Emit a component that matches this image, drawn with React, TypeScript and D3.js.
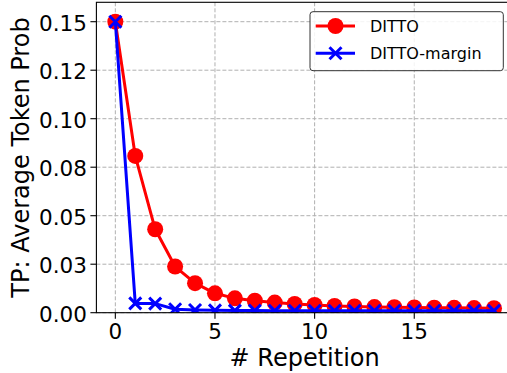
import React, { useRef, useEffect } from "react";
import * as d3 from "d3";

// values
const repetitions = d3.range(0, 20);
const dittoValues = [0.15, 0.0808, 0.043, 0.0238, 0.0152, 0.01, 0.0074, 0.0062, 0.0052, 0.0045, 0.004, 0.0035, 0.0032, 0.0029, 0.0028, 0.0027, 0.0026, 0.0025, 0.0024, 0.0023];
const marginValues = [0.15, 0.0048, 0.0047, 0.0018, 0.0014, 0.0012, 0.0011, 0.0011, 0.001, 0.001, 0.001, 0.001, 0.001, 0.001, 0.001, 0.001, 0.001, 0.001, 0.001, 0.001];
const yTicks = [0, 0.025, 0.05, 0.075, 0.1, 0.125, 0.15];
const yTickLabels = ["0.00", "0.03", "0.05", "0.08", "0.10", "0.12", "0.15"];
const xTicks = [0, 5, 10, 15];
const seriesNames = ["DITTO", "DITTO-margin"];

const W = 507;
const H = 373;
const FONT = "DejaVu Sans, sans-serif";

export default function App() {
  const svgRef = useRef<SVGSVGElement>(null);

  useEffect(() => {
    if (!svgRef.current) return;
    const root = d3.select(svgRef.current);
    root.selectAll("*").remove();

    const left = 96.4, right = 512.9, top = 2.3, bottom = 312.7;
    const x = d3.scaleLinear().domain([-0.95, 19.95]).range([left, right]);
    const y = d3.scaleLinear().domain([0, 0.16]).range([bottom, top]);

    // clip for plotted lines/markers
    root.append("clipPath").attr("id", "plot-clip")
      .append("rect").attr("x", left).attr("y", top).attr("width", right - left).attr("height", bottom - top);

    // grid
    const grid = root.append("g").attr("stroke", "#b0b0b0").attr("stroke-width", 1).attr("stroke-dasharray", "4,2");
    xTicks.forEach((t) => {
      grid.append("line").attr("x1", x(t)).attr("x2", x(t)).attr("y1", top).attr("y2", bottom);
    });
    yTicks.forEach((t) => {
      grid.append("line").attr("x1", left).attr("x2", right).attr("y1", y(t)).attr("y2", y(t));
    });

    const plot = root.append("g").attr("clip-path", "url(#plot-clip)");

    // DITTO: red circles
    const line = d3.line<number>().x((_, i) => x(repetitions[i])).y((d) => y(d));
    plot.append("path").datum(dittoValues).attr("fill", "none").attr("stroke", "#ff0000").attr("stroke-width", 3).attr("stroke-linejoin", "round").attr("d", line);
    plot.selectAll(".dot").data(dittoValues).join("circle")
      .attr("cx", (_, i) => x(repetitions[i])).attr("cy", (d) => y(d)).attr("r", 8).attr("fill", "#ff0000");

    // DITTO-margin: blue crosses
    plot.append("path").datum(marginValues).attr("fill", "none").attr("stroke", "#0000ff").attr("stroke-width", 3).attr("stroke-linejoin", "round").attr("d", line);
    const cross = (g: any, cx: number, cy: number, s: number) => {
      g.append("path")
        .attr("d", `M${cx - s},${cy - s}L${cx + s},${cy + s}M${cx - s},${cy + s}L${cx + s},${cy - s}`)
        .attr("stroke", "#0000ff").attr("stroke-width", 3).attr("fill", "none");
    };
    marginValues.forEach((v, i) => cross(plot, x(repetitions[i]), y(v), 6));

    // spines
    const spines = root.append("g").attr("stroke", "#000").attr("stroke-width", 1.1).attr("fill", "none");
    spines.append("rect").attr("x", left).attr("y", top).attr("width", right - left).attr("height", bottom - top);

    // y ticks
    yTicks.forEach((t, i) => {
      root.append("line").attr("x1", left - 6).attr("x2", left).attr("y1", y(t)).attr("y2", y(t)).attr("stroke", "#000").attr("stroke-width", 1.1);
      root.append("text").attr("x", left - 9.5).attr("y", y(t)).attr("dy", "0.42em").attr("text-anchor", "end")
        .attr("font-family", FONT).attr("font-size", 21.5).attr("fill", "#000").text(yTickLabels[i]);
    });
    // x ticks
    xTicks.forEach((t) => {
      root.append("line").attr("x1", x(t)).attr("x2", x(t)).attr("y1", bottom).attr("y2", bottom + 6).attr("stroke", "#000").attr("stroke-width", 1.1);
      root.append("text").attr("x", x(t)).attr("y", 339).attr("text-anchor", "middle")
        .attr("font-family", FONT).attr("font-size", 21.5).attr("fill", "#000").text(String(t));
    });

    // axis labels
    root.append("text").attr("x", (left + right) / 2).attr("y", 365.7).attr("text-anchor", "middle")
      .attr("font-family", FONT).attr("font-size", 24).attr("fill", "#000").text("# Repetition");
    root.append("text").attr("transform", `translate(28.5,${(top + bottom) / 2}) rotate(-90)`).attr("text-anchor", "middle")
      .attr("font-family", FONT).attr("font-size", 24).attr("fill", "#000").text("TP: Average Token Prob");

    // legend
    const lg = root.append("g");
    lg.append("rect").attr("x", 310).attr("y", 11.7).attr("width", 193.3).attr("height", 59).attr("rx", 3)
      .attr("fill", "#fff").attr("fill-opacity", 0.85).attr("stroke", "#333").attr("stroke-width", 1);
    const rows = [26, 53.3];
    rows.forEach((ry, i) => {
      const color = i === 0 ? "#ff0000" : "#0000ff";
      lg.append("line").attr("x1", 315.7).attr("x2", 355).attr("y1", ry).attr("y2", ry).attr("stroke", color).attr("stroke-width", 3);
      if (i === 0) lg.append("circle").attr("cx", 335.5).attr("cy", ry).attr("r", 8).attr("fill", color);
      else cross(lg, 335.5, ry, 6);
      lg.append("text").attr("x", 370).attr("y", ry).attr("dy", "0.36em").attr("font-family", FONT).attr("font-size", 16)
        .attr("fill", "#000").text(seriesNames[i]);
    });
  }, []);

  return (
    <svg ref={svgRef} width={W} height={H} style={{ position: "absolute", left: 0, top: 0, background: "#fff" }} />
  );
}
